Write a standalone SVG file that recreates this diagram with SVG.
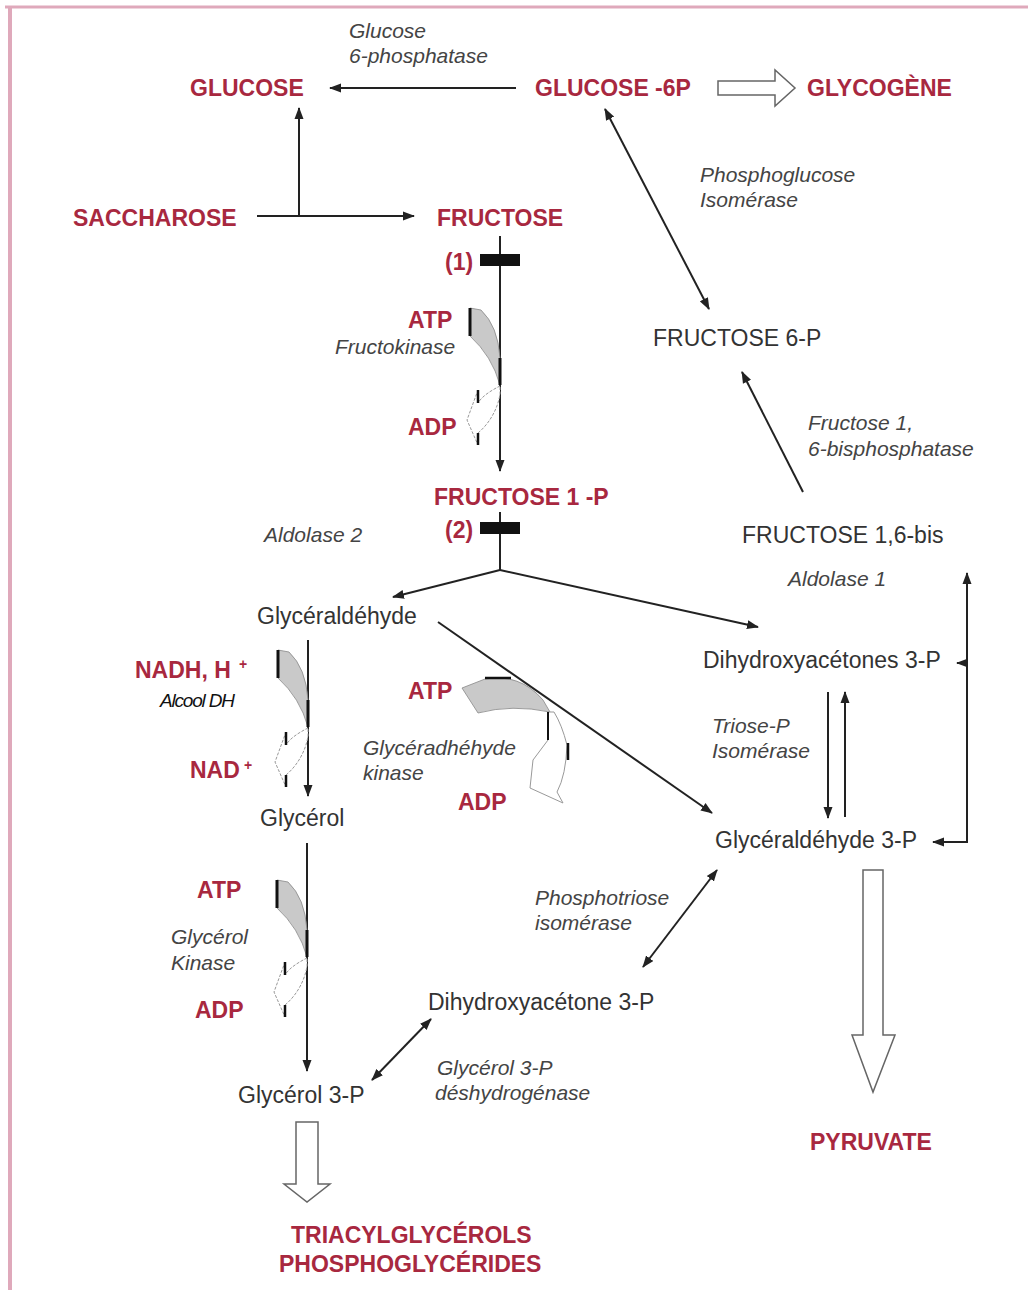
<svg xmlns="http://www.w3.org/2000/svg" xmlns:xlink="http://www.w3.org/1999/xlink" width="1028" height="1290" viewBox="0 0 1028 1290">
<style>
text{font-family:"Liberation Sans",Arial,sans-serif}
.r{font-weight:bold;font-size:23px;fill:#a8283f}
.sup{font-weight:bold;font-size:14px;fill:#a8283f}
.n{font-size:23px;fill:#333}
.i{font-style:italic;font-size:21px;fill:#444}
.i2{font-style:italic;font-size:19px;fill:#111;letter-spacing:-1.2px}
.c{stroke:#222;stroke-width:2;fill:none}
.hollow{fill:#fff;stroke:#666;stroke-width:1.5}
</style>
<defs>
<marker id="ah" markerUnits="userSpaceOnUse" markerWidth="12" markerHeight="10" refX="11" refY="5" orient="auto-start-reverse" viewBox="0 0 12 10">
<path d="M0,0.5 L12,5 L0,9.5 Z" fill="#222"/>
</marker>
<g id="cof">
<path d="M0,0 L11,2 Q28,18 30,50 L30,77 Q22,48 0,28 Z" fill="#c9c9c9" stroke="#888" stroke-width="0.8"/>
<line x1="0" y1="0" x2="0" y2="28" stroke="#111" stroke-width="3"/>
<line x1="30" y1="50" x2="30" y2="77" stroke="#111" stroke-width="3"/>
<path d="M30,78 C22,82 12,88 8,95 L8,82 L-3,112 L8,137 L8,125 C20,115 28,100 30,86 Z" fill="#fff" stroke="#999" stroke-width="1" stroke-dasharray="3,1.5"/>
<line x1="8" y1="82" x2="8" y2="95" stroke="#111" stroke-width="2.5"/>
<line x1="8" y1="125" x2="8" y2="137" stroke="#111" stroke-width="2.5"/>
</g>
</defs>
<rect x="0" y="0" width="1028" height="1290" fill="#fff"/>
<g id="border" stroke="#dfa9bb" fill="none">
<line x1="5" y1="7" x2="1028" y2="7" stroke-width="3"/>
<line x1="10" y1="7" x2="10" y2="1290" stroke-width="4"/>
</g>
<g id="connectors">
<line class="c" x1="516" y1="88" x2="330" y2="88" marker-end="url(#ah)"/>
<line class="c" x1="257" y1="216" x2="414" y2="216" marker-end="url(#ah)"/>
<line class="c" x1="299" y1="216" x2="299" y2="108" marker-end="url(#ah)"/>
<line class="c" x1="500" y1="236" x2="500" y2="471" marker-end="url(#ah)"/>
<line class="c" x1="500" y1="512" x2="500" y2="570"/>
<line class="c" x1="500" y1="570" x2="393" y2="597" marker-end="url(#ah)"/>
<line class="c" x1="500" y1="570" x2="758" y2="627" marker-end="url(#ah)"/>
<line class="c" x1="438" y1="622" x2="712" y2="813" marker-end="url(#ah)"/>
<line class="c" x1="308" y1="640" x2="308" y2="796" marker-end="url(#ah)"/>
<line class="c" x1="307" y1="843" x2="307" y2="1071" marker-end="url(#ah)"/>
<line class="c" x1="372" y1="1080" x2="431" y2="1019" marker-start="url(#ah)" marker-end="url(#ah)"/>
<line class="c" x1="643" y1="967" x2="717" y2="870" marker-start="url(#ah)" marker-end="url(#ah)"/>
<line class="c" x1="828" y1="692" x2="828" y2="818" marker-end="url(#ah)"/>
<line class="c" x1="845" y1="817" x2="845" y2="692" marker-end="url(#ah)"/>
<polyline class="c" points="933,842 967,842 967,573" marker-start="url(#ah)" marker-end="url(#ah)"/>
<line class="c" x1="967" y1="663" x2="957" y2="663" marker-end="url(#ah)"/>
<line class="c" x1="803" y1="492" x2="742" y2="372" marker-end="url(#ah)"/>
<line class="c" x1="605" y1="109" x2="709" y2="309" marker-start="url(#ah)" marker-end="url(#ah)"/>
<polygon class="hollow" points="718,81 775,81 775,70 795,88 775,106 775,95 718,95"/>
<polygon class="hollow" points="863,870 883,870 883,1035 895,1035 873,1092 852,1035 863,1035"/>
<polygon class="hollow" points="296,1122 318,1122 318,1184 330,1184 307,1202 284,1184 296,1184"/>
</g>
<g id="blocks">
<rect x="480" y="254" width="40" height="12" fill="#111"/>
<rect x="480" y="522" width="40" height="12" fill="#111"/>
</g>
<g id="cofactors">
<use xlink:href="#cof" href="#cof" x="470" y="308"/>
<use xlink:href="#cof" href="#cof" x="278" y="650"/>
<use xlink:href="#cof" href="#cof" x="277" y="880"/>
<g id="cof-gk">
<path d="M462,688 L485,679 Q520,673 543,700 L550,712 Q512,704 478,713 Z" fill="#c9c9c9" stroke="#888" stroke-width="0.8"/>
<line x1="485" y1="678" x2="511" y2="678" stroke="#111" stroke-width="2.5"/>
<path d="M548,712 L548,740 L533,760 L530,788 L563,803 L557,792 Q566,775 567,745 Q562,725 554,712 Z" fill="#fff" stroke="#999" stroke-width="1"/>
<line x1="548" y1="712" x2="548" y2="740" stroke="#111" stroke-width="2"/>
<line x1="568" y1="743" x2="568" y2="760" stroke="#111" stroke-width="2.5"/>
</g>
</g>
<g id="n-glucose"><text class="r" x="190" y="96">GLUCOSE</text></g>
<g id="n-g6p"><text class="r" x="535" y="96">GLUCOSE -6P</text></g>
<g id="n-glycogene"><text class="r" x="807" y="96">GLYCOGÈNE</text></g>
<g id="n-saccharose"><text class="r" x="73" y="226">SACCHAROSE</text></g>
<g id="n-fructose"><text class="r" x="437" y="226">FRUCTOSE</text><text class="r" x="445" y="270">(1)</text></g>
<g id="n-f1p"><text class="r" x="434" y="505">FRUCTOSE 1 -P</text><text class="r" x="445" y="538">(2)</text></g>
<g id="n-f6p"><text class="n" x="653" y="346">FRUCTOSE 6-P</text></g>
<g id="n-f16bis"><text class="n" x="742" y="543">FRUCTOSE 1,6-bis</text></g>
<g id="n-glyceraldehyde"><text class="n" x="257" y="624">Glycéraldéhyde</text></g>
<g id="n-dhas"><text class="n" x="703" y="668">Dihydroxyacétones 3-P</text></g>
<g id="n-glycerol"><text class="n" x="260" y="826">Glycérol</text></g>
<g id="n-g3p"><text class="n" x="715" y="848">Glycéraldéhyde 3-P</text></g>
<g id="n-dhap"><text class="n" x="428" y="1010">Dihydroxyacétone 3-P</text></g>
<g id="n-glycerol3p"><text class="n" x="238" y="1103">Glycérol 3-P</text></g>
<g id="n-pyruvate"><text class="r" x="810" y="1150">PYRUVATE</text></g>
<g id="n-tag"><text class="r" x="291" y="1243">TRIACYLGLYCÉROLS</text><text class="r" x="279" y="1272">PHOSPHOGLYCÉRIDES</text></g>
<g id="cofactor-labels">
<text class="r" x="408" y="328">ATP</text>
<text class="r" x="408" y="435">ADP</text>
<text class="r" x="135" y="678">NADH, H</text><text class="sup" x="239" y="669">+</text>
<text class="r" x="190" y="778">NAD</text><text class="sup" x="244" y="770">+</text>
<text class="r" x="408" y="699">ATP</text>
<text class="r" x="458" y="810">ADP</text>
<text class="r" x="197" y="898">ATP</text>
<text class="r" x="195" y="1018">ADP</text>
</g>
<g id="enzymes">
<text class="i" x="349" y="38">Glucose</text>
<text class="i" x="349" y="63">6-phosphatase</text>
<text class="i" x="700" y="182">Phosphoglucose</text>
<text class="i" x="700" y="207">Isomérase</text>
<text class="i" x="335" y="354">Fructokinase</text>
<text class="i" x="808" y="430">Fructose 1,</text>
<text class="i" x="808" y="456">6-bisphosphatase</text>
<text class="i" x="264" y="542">Aldolase 2</text>
<text class="i" x="788" y="586">Aldolase 1</text>
<text class="i2" x="160" y="707">Alcool DH</text>
<text class="i" x="363" y="755">Glycéradhéhyde</text>
<text class="i" x="363" y="780">kinase</text>
<text class="i" x="712" y="733">Triose-P</text>
<text class="i" x="712" y="758">Isomérase</text>
<text class="i" x="171" y="944">Glycérol</text>
<text class="i" x="171" y="970">Kinase</text>
<text class="i" x="535" y="905">Phosphotriose</text>
<text class="i" x="535" y="930">isomérase</text>
<text class="i" x="437" y="1075">Glycérol 3-P</text>
<text class="i" x="435" y="1100">déshydrogénase</text>
</g>
</svg>
